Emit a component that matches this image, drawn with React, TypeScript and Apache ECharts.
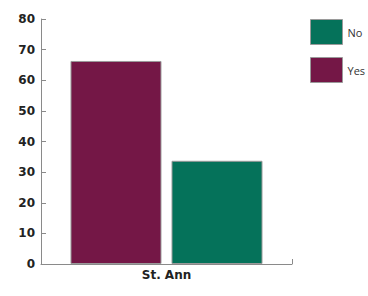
import React, { useEffect, useRef } from "react";
import * as echarts from "echarts";

const categories = ["St. Ann"];
const yesValues = [66.3];
const noValues = [33.7];
const legendOrder = ["No", "Yes"];

export default function App() {
  const ref = useRef<HTMLDivElement>(null);
  useEffect(() => {
    if (!ref.current) return;
    document.body.style.margin = "0";
    document.body.style.overflow = "hidden";
    const chart = echarts.init(ref.current, undefined, { renderer: "svg" });
    const axisColor = "#8a8a8a";
    chart.setOption({
      animation: false,
      backgroundColor: "#ffffff",
      grid: { left: 41, top: 19, right: 76, bottom: 32 },
      legend: {
        orient: "vertical",
        top: 19,
        left: 310,
        padding: 0,
        data: legendOrder,
        itemWidth: 32,
        itemHeight: 25,
        itemGap: 12,
        icon: "rect",
        itemStyle: { borderColor: "#9a9a9a", borderWidth: 1 },
        textStyle: { fontFamily: "Open Sans", fontSize: 11, color: "#333", overflow: "none" },
      },
      xAxis: {
        type: "category",
        data: categories,
        axisLine: { lineStyle: { color: axisColor, width: 1 } },
        axisTick: { show: true, inside: true, length: 5, lineStyle: { color: axisColor } },
        axisLabel: {
          fontFamily: "DejaVu Sans",
          fontWeight: "bold",
          fontSize: 12,
          color: "#222",
          margin: 5,
        },
      },
      yAxis: {
        type: "value",
        min: 0,
        max: 80,
        interval: 10,
        splitLine: { show: false },
        axisLine: { show: true, lineStyle: { color: axisColor, width: 1 } },
        axisTick: { show: true, inside: true, length: 5, lineStyle: { color: axisColor } },
        axisLabel: {
          fontFamily: "DejaVu Sans",
          fontWeight: "bold",
          fontSize: 12,
          color: "#222",
          margin: 6,
        },
      },
      series: [
        {
          name: "Yes",
          type: "bar",
          data: yesValues,
          barWidth: 91,
          barGap: "11%",
          itemStyle: { color: "#741746", borderColor: "#9a9a9a", borderWidth: 1 },
        },
        {
          name: "No",
          type: "bar",
          data: noValues,
          barWidth: 91,
          itemStyle: { color: "#05725a", borderColor: "#9a9a9a", borderWidth: 1 },
        },
      ],
    });
    return () => chart.dispose();
  }, []);
  return (
    <div
      ref={ref}
      style={{ position: "fixed", left: 0, top: 0, width: 368, height: 296 }}
    />
  );
}
